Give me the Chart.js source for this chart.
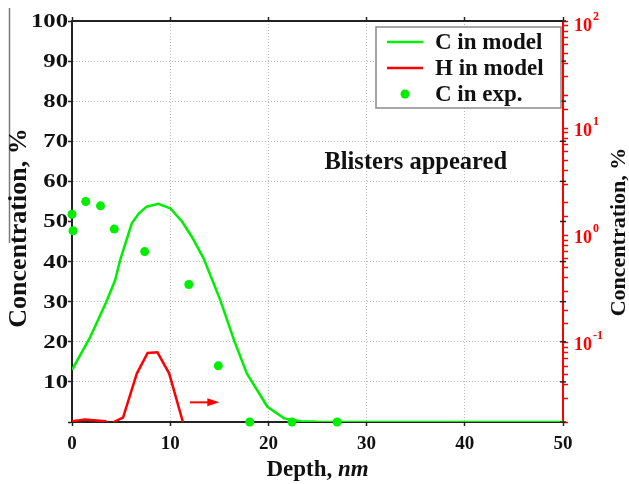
<!DOCTYPE html>
<html>
<head>
<meta charset="utf-8">
<script src="https://cdn.jsdelivr.net/npm/chart.js@4.4.1/dist/chart.umd.min.js"></script>
<style>
  body { margin: 0; background: #fff; }
  #wrap { width: 629px; height: 484px; position: relative; }
</style>
</head>
<body>
<div id="wrap"><canvas id="depthChart"></canvas></div>
<script>
// C in model, left axis (%)
const cModelDepth = [0, 1.8, 3.5, 4.4, 4.9, 6.1, 6.8, 7.6, 8.8, 10.0, 11.2, 12.2, 13.4, 15.1, 16.5, 17.8, 19.9, 21.6, 23.3, 25, 30, 50];
const cModelConc = [13.0, 20.9, 30.0, 35.4, 40.4, 49.6, 52.0, 53.7, 54.4, 53.3, 50.0, 46.2, 40.8, 30.4, 20.4, 12.1, 3.8, 0.9, 0.2, 0.05, 0, 0];

// H in model, right log axis (%)
const hModelDepth = [0, 0.8, 1.3, 2.2, 3.4, 3.9, 4.4, 5.2, 6.6, 7.7, 8.7, 9.9, 11.3];
const hModelConc = [0.0183, 0.0187, 0.019, 0.0187, 0.0183, 0.017, 0.0183, 0.0198, 0.051, 0.0794, 0.0806, 0.051, 0.0179];

// C measured
const cExpDepth = [0.0, 0.1, 1.4, 2.9, 4.3, 7.4, 11.9, 14.9, 18.1, 22.4, 27.0];
const cExpConc = [51.8, 47.7, 55.0, 53.9, 48.1, 42.5, 34.3, 14.0, 0, 0, 0];

const depthTicks = [0, 10, 20, 30, 40, 50];
const concTicks = [0, 10, 20, 30, 40, 50, 60, 70, 80, 90, 100];
const logTicks = [0.1, 1, 10, 100];

const GREEN = "#00ee00";
const RED = "#ff0000";
const SERIF = "'Liberation Serif', 'Times New Roman', serif";
const CLEAR = "rgba(0,0,0,0)";

const toPoints = (xs, ys) => xs.map((x, i) => ({ x: x, y: ys[i] }));

// Figure text, arrow, legend and the log axis labels
const decorations = {
  id: "decorations",
  afterDraw(chart) {
    const ctx = chart.ctx;
    const { x, y, y2 } = chart.scales;
    const area = chart.chartArea;

    // thin rule at far left
    ctx.save();
    ctx.strokeStyle = "#7a7a7a";
    ctx.lineWidth = 1.5;
    ctx.beginPath();
    ctx.moveTo(9.5, 8);
    ctx.lineTo(9.5, 243);
    ctx.stroke();
    ctx.restore();

    // black ticks of the left scale repeated on the right frame
    ctx.save();
    ctx.strokeStyle = "#222";
    ctx.lineWidth = 1.5;
    concTicks.forEach(v => {
      const py = y.getPixelForValue(v);
      ctx.beginPath();
      ctx.moveTo(area.right - 3, py);
      ctx.lineTo(area.right + 3, py);
      ctx.stroke();
    });
    ctx.restore();

    // left tick labels, drawn a bit wide
    ctx.save();
    ctx.fillStyle = "#111";
    ctx.font = "bold 19px " + SERIF;
    ctx.textBaseline = "middle";
    concTicks.filter(v => v > 0).forEach(v => {
      ctx.save();
      ctx.translate(area.left - 4, y.getPixelForValue(v) + 1);
      ctx.scale(1.3, 1);
      ctx.textAlign = "right";
      ctx.fillText(String(v), 0, 0);
      ctx.restore();
    });
    ctx.restore();

    // right log labels 10^n
    ctx.save();
    ctx.fillStyle = RED;
    ctx.textBaseline = "middle";
    logTicks.forEach(v => {
      const py = Math.max(y2.getPixelForValue(v) + 3, area.top + 5);
      const px = area.right + 11;
      ctx.font = "bold 18px " + SERIF;
      ctx.textAlign = "left";
      ctx.fillText("10", px, py);
      const w = ctx.measureText("10").width;
      ctx.font = "bold 12px " + SERIF;
      ctx.fillText(String(Math.round(Math.log10(v))), px + w + 1, py - 9);
    });
    ctx.restore();

    // axis titles
    ctx.save();
    ctx.fillStyle = "#111";
    ctx.textAlign = "center";
    ctx.textBaseline = "middle";
    ctx.font = "bold 26px " + SERIF;
    ctx.translate(19, 228);
    ctx.rotate(-Math.PI / 2);
    ctx.fillText("Concentration, %", 0, 0);
    ctx.restore();

    ctx.save();
    ctx.fillStyle = "#111";
    ctx.textAlign = "center";
    ctx.textBaseline = "middle";
    ctx.font = "bold 22px " + SERIF;
    ctx.translate(619, 232);
    ctx.rotate(-Math.PI / 2);
    ctx.fillText("Concentration, %", 0, 0);
    ctx.restore();

    ctx.save();
    ctx.fillStyle = "#111";
    ctx.textBaseline = "middle";
    ctx.font = "bold 23px " + SERIF;
    const part1 = "Depth, ";
    const w1 = ctx.measureText(part1).width;
    ctx.font = "italic bold 23px " + SERIF;
    const w2 = ctx.measureText("nm").width;
    const startX = (area.left + area.right) / 2 - (w1 + w2) / 2;
    ctx.font = "bold 23px " + SERIF;
    ctx.fillText(part1, startX, 470);
    ctx.font = "italic bold 23px " + SERIF;
    ctx.fillText("nm", startX + w1, 470);
    ctx.restore();

    // note
    ctx.save();
    ctx.fillStyle = "#111";
    ctx.font = "bold 24.5px " + SERIF;
    ctx.textAlign = "center";
    ctx.textBaseline = "middle";
    ctx.fillText("Blisters appeared", x.getPixelForValue(35), y.getPixelForValue(64.6));
    ctx.restore();

    // arrow pointing to the right axis
    const ax0 = x.getPixelForValue(12.0);
    const ax1 = x.getPixelForValue(15.0);
    const ay = y.getPixelForValue(4.9);
    ctx.save();
    ctx.strokeStyle = RED;
    ctx.fillStyle = RED;
    ctx.lineWidth = 2;
    ctx.beginPath();
    ctx.moveTo(ax0, ay);
    ctx.lineTo(ax1 - 8, ay);
    ctx.stroke();
    ctx.beginPath();
    ctx.moveTo(ax1, ay);
    ctx.lineTo(ax1 - 12, ay - 4);
    ctx.lineTo(ax1 - 12, ay + 4);
    ctx.closePath();
    ctx.fill();
    ctx.restore();

    // legend box
    const bx = 376, by = 27, bw = 185, bh = 81;
    ctx.save();
    ctx.fillStyle = "#fff";
    ctx.fillRect(bx, by, bw, bh);
    ctx.strokeStyle = "#8a8a8a";
    ctx.lineWidth = 1.5;
    ctx.strokeRect(bx, by, bw, bh);
    ctx.font = "bold 23px " + SERIF;
    ctx.textBaseline = "middle";
    ctx.fillStyle = "#111";
    chart.data.datasets.forEach((ds, i) => {
      const ry = by + 15 + i * 26;
      if (ds.showLine) {
        ctx.strokeStyle = ds.borderColor;
        ctx.lineWidth = 2.5;
        ctx.beginPath();
        ctx.moveTo(bx + 11, ry);
        ctx.lineTo(bx + 47, ry);
        ctx.stroke();
      } else {
        ctx.fillStyle = ds.backgroundColor;
        ctx.beginPath();
        ctx.arc(bx + 29, ry, 4.5, 0, Math.PI * 2);
        ctx.fill();
      }
      ctx.fillStyle = "#111";
      ctx.fillText(ds.label, bx + 59, ry + 1);
    });
    ctx.restore();
  }
};

const gridDots = ctx => {
  const v = ctx.tick ? ctx.tick.value : null;
  return (v === 0 || v === 50 || v === 100) ? CLEAR : "#b8b8b8";
};

new Chart(document.getElementById("depthChart"), {
  type: "scatter",
  data: {
    datasets: [
      {
        label: "C in model",
        data: toPoints(cModelDepth, cModelConc),
        showLine: true,
        borderColor: GREEN,
        backgroundColor: GREEN,
        borderWidth: 2.5,
        pointRadius: 0,
        tension: 0,
        yAxisID: "y",
      },
      {
        label: "H in model",
        data: toPoints(hModelDepth, hModelConc),
        showLine: true,
        borderColor: RED,
        backgroundColor: RED,
        borderWidth: 2.5,
        pointRadius: 0,
        tension: 0,
        yAxisID: "y2",
      },
      {
        label: "C in exp.",
        data: toPoints(cExpDepth, cExpConc),
        showLine: false,
        borderColor: GREEN,
        backgroundColor: GREEN,
        pointRadius: 4.5,
        pointBorderWidth: 0,
        clip: false,
        yAxisID: "y",
      },
    ],
  },
  options: {
    responsive: true,
    maintainAspectRatio: false,
    animation: false,
    layout: { padding: 0 },
    font: { family: SERIF },
    plugins: {
      legend: { display: false },
      tooltip: { enabled: false },
    },
    scales: {
      x: {
        type: "linear",
        position: "bottom",
        min: 0,
        max: 50,
        afterBuildTicks: s => { s.ticks = depthTicks.map(v => ({ value: v })); },
        afterFit: s => { s.height = 62; },
        ticks: {
          color: "#111",
          padding: 7,
          autoSkip: false,
          font: { family: SERIF, size: 19, weight: "bold" },
        },
        grid: { color: gridDots, tickColor: "#222", tickLength: 4, tickWidth: 1.5, lineWidth: 1 },
        border: { color: "#222", width: 2, dash: [1, 2] },
      },
      x2: {
        type: "linear",
        position: "top",
        min: 0,
        max: 50,
        afterBuildTicks: s => { s.ticks = depthTicks.map(v => ({ value: v })); },
        afterFit: s => { s.height = 21; },
        ticks: { color: CLEAR, autoSkip: false, font: { size: 1 } },
        grid: { drawOnChartArea: false, tickColor: "#222", tickLength: 4, tickWidth: 1.5 },
        border: { color: "#222", width: 2 },
      },
      y: {
        type: "linear",
        position: "left",
        min: 0,
        max: 100,
        afterBuildTicks: s => { s.ticks = concTicks.map(v => ({ value: v })); },
        afterFit: s => { s.width = 72; },
        ticks: { color: CLEAR, autoSkip: false, font: { size: 1 } },
        grid: { color: gridDots, tickColor: "#222", tickLength: 4, tickWidth: 1.5, lineWidth: 1 },
        border: { color: "#222", width: 2, dash: [1, 2] },
      },
      y2: {
        type: "logarithmic",
        position: "right",
        min: 0.018,
        max: 100,
        afterFit: s => { s.width = 66; },
        ticks: { color: CLEAR, autoSkip: false, font: { size: 1 }, callback: () => "" },
        grid: {
          drawOnChartArea: false,
          tickColor: RED,
          tickWidth: 1.5,
          tickLength: 5,
        },
        border: { color: RED, width: 2 },
      },
    },
  },
  plugins: [decorations],
});
</script>
</body>
</html>
